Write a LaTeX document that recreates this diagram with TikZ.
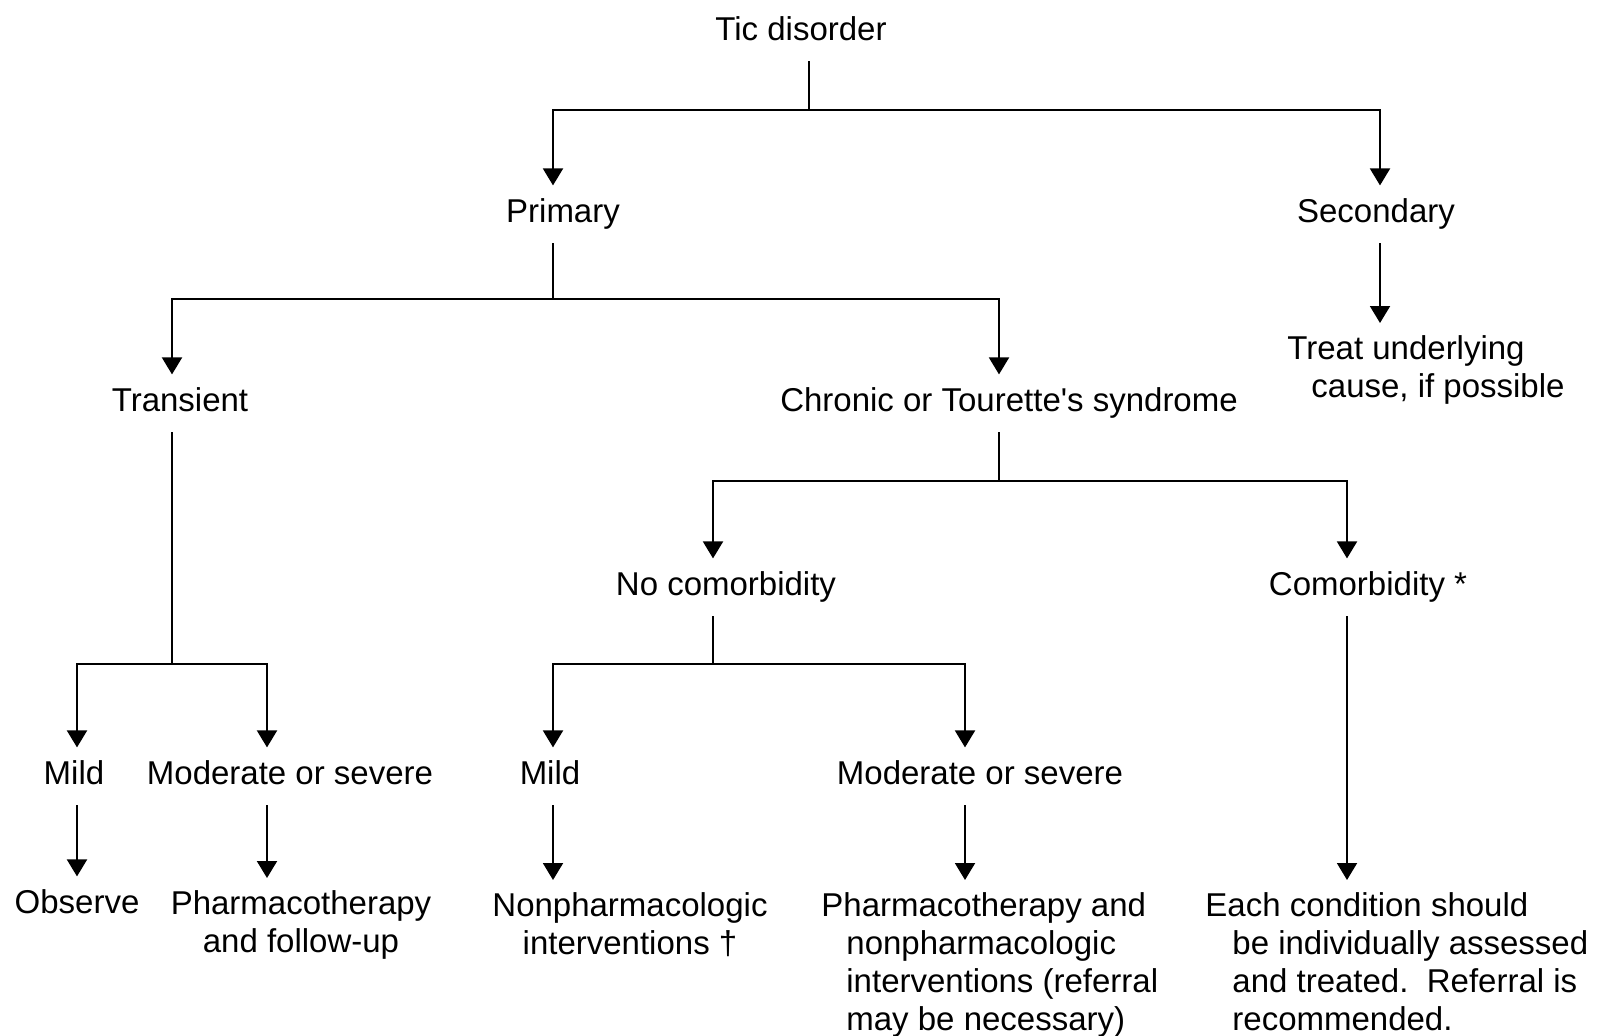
\documentclass[tikz,border=0pt]{standalone}
\usepackage{fontspec}
\setmainfont{Liberation Sans}
\usetikzlibrary{arrows.meta}
\begin{document}
\begin{tikzpicture}[x=0.5pt,y=-0.5pt,
  every node/.style={font=\fontsize{16.5pt}{19pt}\selectfont, inner xsep=1pt, inner ysep=0pt, outer ysep=6.5pt},
  lbl/.style={anchor=base, text height=11.8pt, text depth=4pt},
  multi/.style={align=left, anchor=north west},
  multic/.style={align=center, anchor=north},
  ln/.style={line width=1pt},
  arr/.style={line width=1pt, -{Triangle[width=10pt,length=8.5pt]}}]
\useasboundingbox[fill=white] (0,0) rectangle (1606,1035);

% columns and junctions
\coordinate (cPri) at (553,0);
\coordinate (cSec) at (1380,0);
\coordinate (cTra) at (172,0);
\coordinate (cChr) at (999,0);
\coordinate (cNoc) at (713,0);
\coordinate (cCom) at (1347,0);
\coordinate (cM1) at (77,0);
\coordinate (cM2) at (267,0);
\coordinate (cM3) at (553,0);
\coordinate (cM4) at (965,0);
\coordinate (j1) at (809,110);
\coordinate (j2) at (553,299);
\coordinate (j3) at (172,664);
\coordinate (j4) at (999,481);
\coordinate (j5) at (713,664);

% nodes
\node[lbl] (tic) at (801,40) {Tic disorder};
\node[lbl] (pri) at (563,222) {Primary};
\node[lbl] (sec) at (1376,222) {Secondary};
\node[multi] (treat) at (1285,323) {Treat underlying\\\hspace*{12pt}cause, if possible};
\node[lbl] (tra) at (180,411) {Transient};
\node[lbl] (chr) at (1009,411) {Chronic or Tourette\textquotesingle s syndrome};
\node[lbl] (noc) at (726,595) {No comorbidity};
\node[lbl] (com) at (1368,595) {Comorbidity *};
\node[lbl] (mild1) at (74,784) {Mild};
\node[lbl] (mod1) at (290,784) {Moderate or severe};
\node[lbl] (mild2) at (550,784) {Mild};
\node[lbl] (mod2) at (980,784) {Moderate or severe};
\node[lbl] (obs) at (77,913) {Observe};
\node[multic] (ph1) at (301,878) {Pharmacotherapy\\and follow-up};
\node[multic] (np) at (630,880) {Nonpharmacologic\\interventions \dag};
\node[multi] (ph2) at (819,880) {Pharmacotherapy and\\\hspace*{12.5pt}nonpharmacologic\\\hspace*{12.5pt}interventions (referral\\\hspace*{12.5pt}may be necessary)};
\node[multi] (each) at (1203,880) {Each condition should\\\hspace*{13.5pt}be individually assessed\\\hspace*{13.5pt}and treated.\ \ Referral is\\\hspace*{13.5pt}recommended.};

% connectors
\draw[ln] (tic.south -| j1) -- (j1);
\draw[arr] (j1) -| (pri.north -| cPri);
\draw[arr] (j1) -| (sec.north -| cSec);
\draw[ln] (pri.south -| j2) -- (j2);
\draw[arr] (j2) -| (tra.north -| cTra);
\draw[arr] (j2) -| (chr.north -| cChr);
\draw[arr] (sec.south -| cSec) -- (treat.north -| cSec);
\draw[ln] (tra.south -| j3) -- (j3);
\draw[arr] (j3) -| (mild1.north -| cM1);
\draw[arr] (j3) -| (mod1.north -| cM2);
\draw[ln] (chr.south -| j4) -- (j4);
\draw[arr] (j4) -| (noc.north -| cNoc);
\draw[arr] (j4) -| (com.north -| cCom);
\draw[ln] (noc.south -| j5) -- (j5);
\draw[arr] (j5) -| (mild2.north -| cM3);
\draw[arr] (j5) -| (mod2.north -| cM4);
\draw[arr] (mild1.south -| cM1) -- (obs.north -| cM1);
\draw[arr] (mod1.south -| cM2) -- (ph1.north -| cM2);
\draw[arr] (mild2.south -| cM3) -- (np.north -| cM3);
\draw[arr] (mod2.south -| cM4) -- (ph2.north -| cM4);
\draw[arr] (com.south -| cCom) -- (each.north -| cCom);
\end{tikzpicture}
\end{document}
